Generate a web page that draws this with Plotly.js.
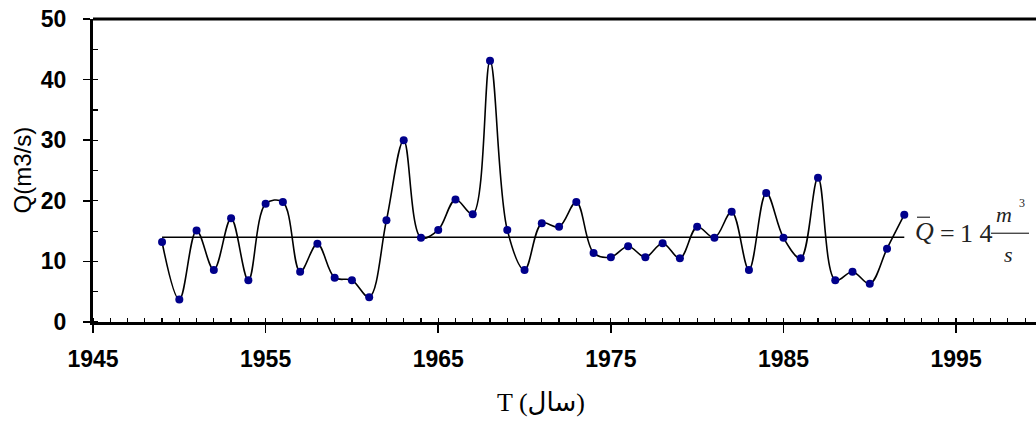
<!DOCTYPE html>
<html>
<head>
<meta charset="utf-8">
<script src="https://cdn.plot.ly/plotly-3.0.1.min.js"></script>
<style>html,body{margin:0;padding:0;background:#fff;}#chart{width:1036px;height:426px;}</style>
</head>
<body>
<div id="chart"></div>
<script>
var years = [1949,1950,1951,1952,1953,1954,1955,1956,1957,1958,1959,1960,1961,1962,1963,1964,1965,1966,1967,1968,1969,1970,1971,1972,1973,1974,1975,1976,1977,1978,1979,1980,1981,1982,1983,1984,1985,1986,1987,1988,1989,1990,1991,1992];
var flow = [13.2,3.7,15.1,8.6,17.1,6.9,19.5,19.8,8.3,12.9,7.3,6.9,4.1,16.8,30.0,13.9,15.2,20.2,17.8,43.1,15.2,8.6,16.3,15.7,19.8,11.4,10.7,12.5,10.7,13.0,10.5,15.7,13.9,18.2,8.6,21.3,13.9,10.5,23.8,6.9,8.3,6.3,12.1,17.7];
var meanQ = 14;
var meanYears = [1949, 1992];
var xTickVals = [1945,1955,1965,1975,1985,1995];
var yTickVals = [0,10,20,30,40,50];
var xTitle = "T (سال)";
var yTitle = "Q(m3/s)";

var traces = [
  {x: meanYears, y: meanYears.map(function(){return meanQ;}), mode: 'lines',
   line: {color: '#000', width: 1.5}, hoverinfo: 'skip'},
  {x: years, y: flow, mode: 'lines+markers',
   line: {color: '#000', width: 1.6, shape: 'spline', smoothing: 1},
   marker: {color: '#00008B', size: 8, symbol: 'circle'}}
];

var serif = 'Liberation Serif, Times New Roman, serif';
function px(x){ return (x-93)/943; }
function py(y){ return (321.7-y)/302.7; }
var layout = {
  width: 1036, height: 426,
  margin: {l: 93, r: 0, t: 19, b: 104},
  showlegend: false,
  paper_bgcolor: '#fff', plot_bgcolor: '#fff',
  xaxis: {
    range: [1945, 1999.63], tickvals: xTickVals, ticktext: xTickVals.map(String),
    showgrid: false, zeroline: false, showline: true, linecolor: '#000', linewidth: 3,
    ticks: 'outside', ticklen: 8, tickwidth: 1.5, tickcolor: '#000',
    ticklabelstandoff: 6,
    tickfont: {family: 'Liberation Sans, Arial, sans-serif', size: 23, color: '#000', weight: 'bold'},
    minor: {dtick: 1, tick0: 1945, ticks: 'inside', ticklen: 4, tickwidth: 1.2, tickcolor: '#000', showgrid: false}
  },
  yaxis: {
    range: [0, 50], tickvals: yTickVals, ticktext: yTickVals.map(String),
    showgrid: false, zeroline: false, showline: true, linecolor: '#000', linewidth: 3,
    ticks: 'outside', ticklen: 7, tickwidth: 1.5, tickcolor: '#000',
    ticklabelstandoff: 12,
    tickfont: {family: 'Liberation Sans, Arial, sans-serif', size: 23, color: '#000', weight: 'bold'},
    minor: {dtick: 5, tick0: 0, ticks: 'inside', ticklen: 5, tickwidth: 1.2, tickcolor: '#000', showgrid: false}
  },
  shapes: [
    {type: 'line', xref: 'paper', yref: 'paper', x0: 0, x1: 1, y0: 1, y1: 1, line: {color: '#000', width: 3}},
    {type: 'line', xref: 'paper', yref: 'paper', x0: px(917), x1: px(930), y0: py(217), y1: py(217), line: {color: '#000', width: 1}},
    {type: 'line', xref: 'paper', yref: 'paper', x0: px(991), x1: px(1029), y0: py(233), y1: py(233), line: {color: '#000', width: 1}}
  ],
  annotations: [
    {text: yTitle, xref: 'paper', yref: 'paper', x: 0, y: 0.5, xshift: -71, textangle: -90,
     showarrow: false, xanchor: 'center', yanchor: 'middle',
     font: {family: 'Liberation Sans, Arial, sans-serif', size: 24, color: '#000'}},
    {text: xTitle, xref: 'paper', yref: 'paper', x: px(541), y: 0, yshift: -80,
     showarrow: false, xanchor: 'center', yanchor: 'middle',
     font: {family: serif + ', DejaVu Sans', size: 26, color: '#000'}},
    {text: '<i>Q</i>', xref: 'paper', yref: 'paper', x: px(924), y: py(231),
     showarrow: false, xanchor: 'center', yanchor: 'middle', font: {family: serif, size: 26, color: '#222'}},
    {text: '=', xref: 'paper', yref: 'paper', x: px(947), y: py(233),
     showarrow: false, xanchor: 'center', yanchor: 'middle', font: {family: serif, size: 26, color: '#222'}},
    {text: '1 4', xref: 'paper', yref: 'paper', x: px(976), y: py(233),
     showarrow: false, xanchor: 'center', yanchor: 'middle', font: {family: serif, size: 26, color: '#222'}},
    {text: '<i>m</i>', xref: 'paper', yref: 'paper', x: px(1004), y: py(214),
     showarrow: false, xanchor: 'center', yanchor: 'middle', font: {family: serif, size: 22, color: '#222'}},
    {text: '3', xref: 'paper', yref: 'paper', x: px(1022), y: py(203),
     showarrow: false, xanchor: 'center', yanchor: 'middle', font: {family: serif, size: 12, color: '#222'}},
    {text: '<i>s</i>', xref: 'paper', yref: 'paper', x: px(1008), y: py(254),
     showarrow: false, xanchor: 'center', yanchor: 'middle', font: {family: serif, size: 22, color: '#222'}}
  ]
};

Plotly.newPlot('chart', traces, layout, {staticPlot: true, displayModeBar: false});
</script>
</body>
</html>
